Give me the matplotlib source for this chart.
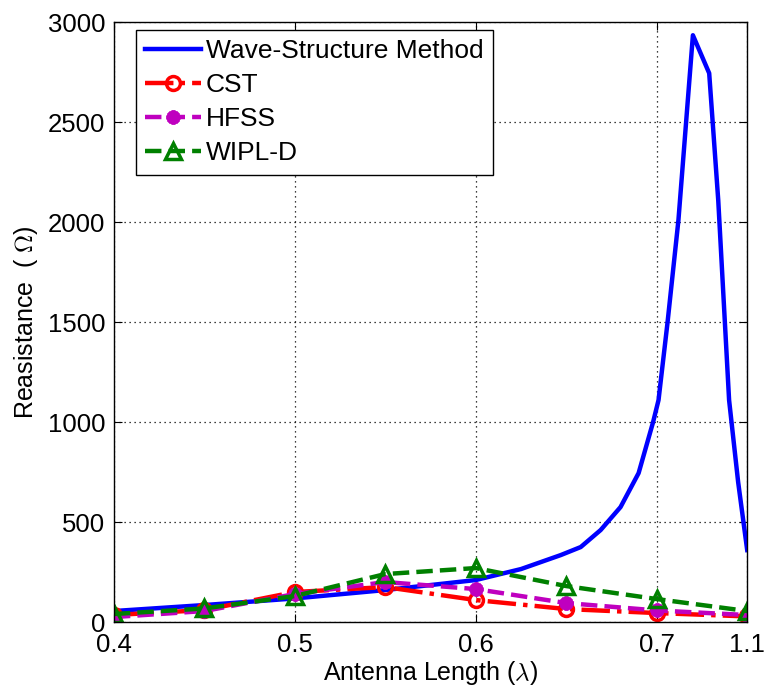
import matplotlib
matplotlib.use('Agg')
import matplotlib.pyplot as plt

plt.rcParams['font.family'] = ['Liberation Sans', 'DejaVu Sans']
plt.rcParams['mathtext.fontset'] = 'cm'

# wave-structure method (continuous curve)
wsm_x = [0.40, 0.45, 0.50, 0.55, 0.60, 0.625, 0.647, 0.658, 0.669, 0.680, 0.690,
         0.698, 0.701, 0.706, 0.712, 0.720, 0.729, 0.734, 0.740, 0.745, 0.750]
wsm_y = [55, 85, 118, 160, 210, 265, 335, 375, 460, 575, 745,
         1000, 1110, 1500, 2010, 2935, 2745, 2110, 1110, 700, 360]

# simulator points
sim_x = [0.40, 0.45, 0.50, 0.55, 0.60, 0.65, 0.70, 0.75]
cst = [35, 60, 150, 175, 110, 65, 45, 28]
hfss = [25, 55, 140, 200, 165, 95, 58, 35]
wipld = [40, 68, 130, 240, 270, 180, 115, 55]

xticks = [0.4, 0.5, 0.6, 0.7, 0.75]
xtick_labels = ['0.4', '0.5', '0.6', '0.7', '1.1']
yticks = [0, 500, 1000, 1500, 2000, 2500, 3000]

fig = plt.figure(figsize=(7.64, 6.91), dpi=100)
ax = fig.add_axes([0.149, 0.0998, 0.829, 0.868])

ax.plot(wsm_x, wsm_y, '-', color='#0000ff', lw=3.2, label='Wave-Structure Method')
ax.plot(sim_x, cst, '-.', color='#ff0000', lw=3.2, marker='o', ms=10, mew=2.5,
        mfc='none', label='CST')
ax.plot(sim_x, hfss, '--', color='#bf00bf', lw=3.2, marker=(8, 2, 0), ms=10, mew=3,
        label='HFSS')
ax.plot(sim_x, wipld, '--', color='#008000', lw=3.2, marker='^', ms=11, mew=2.5,
        mfc='none', label='WIPL-D')

ax.set_xlim(0.4, 0.75)
ax.set_ylim(0, 3000)
ax.set_xticks(xticks)
ax.set_xticklabels(xtick_labels)
ax.set_yticks(yticks)
ax.tick_params(direction='in', length=6, top=True, right=True, labelsize=18.5)
ax.tick_params(axis='x', pad=8)
ax.tick_params(axis='y', pad=6)
ax.grid(True, linestyle=(0, (1, 3)), color='black', lw=0.9)
for s in ax.spines.values():
    s.set_linewidth(1.0)

ax.set_xlabel('Antenna Length ($\\lambda$)', fontsize=18, labelpad=1)
ax.set_ylabel('Reasistance  ( $\\Omega$)', fontsize=18, labelpad=6)

leg = ax.legend(loc='upper left', bbox_to_anchor=(0.035, 0.987), fontsize=19,
                fancybox=False, framealpha=1, edgecolor='black', handlelength=2.1,
                labelspacing=0.38, borderaxespad=0, handletextpad=0.2,
                borderpad=0.35)
leg.get_frame().set_linewidth(1.0)

fig.savefig('out.png', dpi=100)
